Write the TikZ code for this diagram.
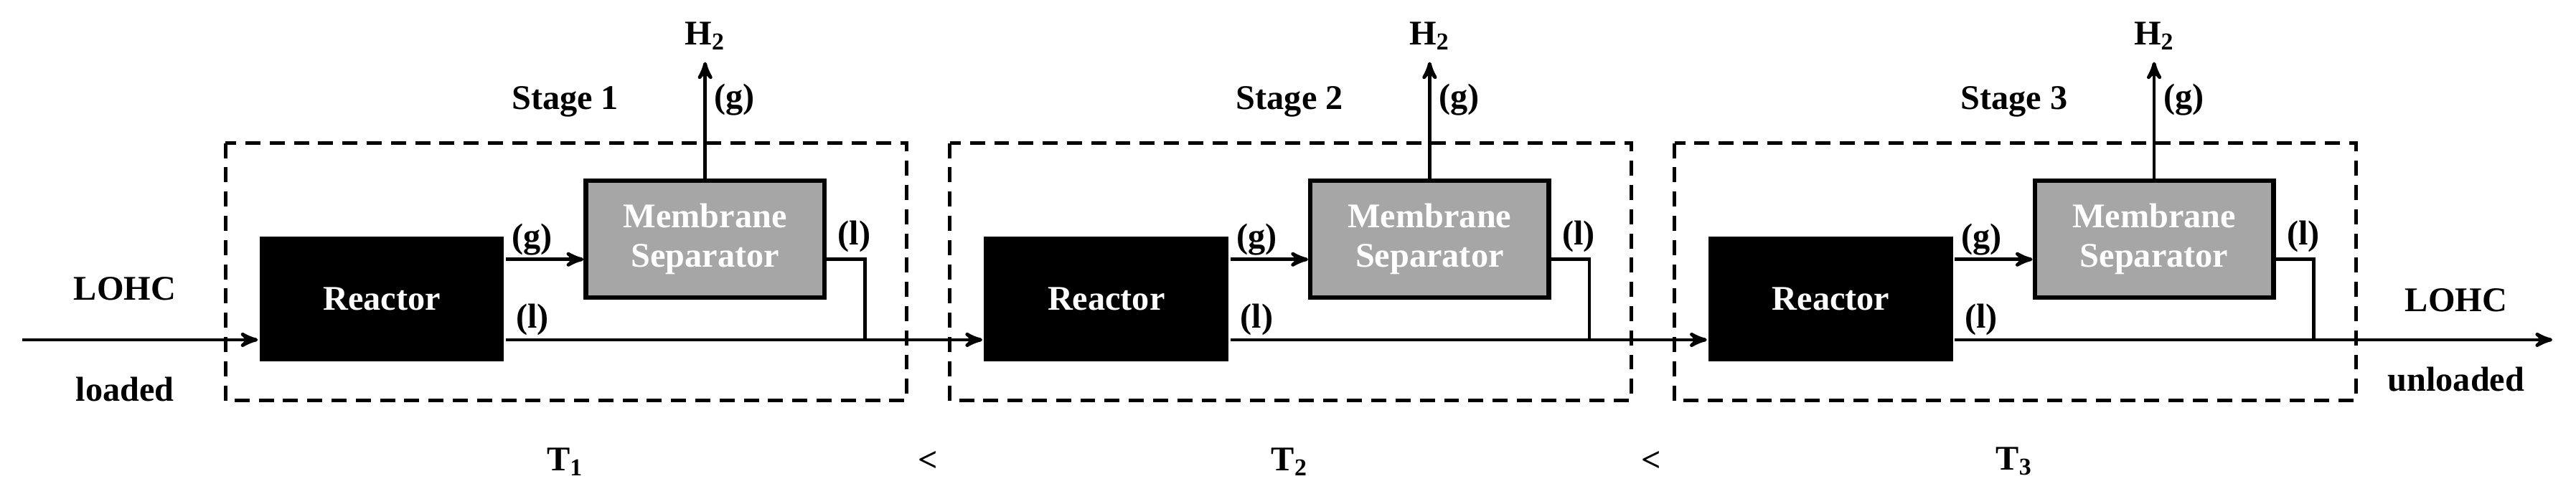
\documentclass[tikz,border=0pt]{standalone}
\usepackage{fontspec}
\setmainfont{Liberation Serif}
\usetikzlibrary{
    arrows,
    calc,
    positioning,
}

\begin{document}
\begin{tikzpicture}[>=stealth', line width=1.5pt]

    \tikzstyle{commonNode}=[font=\fontsize{15}{17}\selectfont\bfseries, align=center]
    \tikzstyle{reactor}=[commonNode, rectangle, fill=black, text=white, minimum width=3.72cm, minimum height=1.9cm, inner sep=0pt]
    \tikzstyle{membrane}=[commonNode, rectangle, draw=black, line width=2pt, fill=black!35, text=white, minimum width=3.63cm, minimum height=1.78cm, inner sep=0pt]
    \tikzstyle{streamText}=[commonNode, inner sep=1pt]
    \tikzstyle{stageBox}=[line width=1.6pt, dash pattern=on 6.5pt off 4pt]
    \tikzstyle{flow}=[->, line width=1.5pt]

    \begin{scope}
        % Spacing the stages out
        \def \hspacing {11.025}
        \def \gasshift {-0.31cm}

        \useasboundingbox (0,0) rectangle (39.2,-7.59);

        % Stage boxes
        \draw[stageBox] (3.43+0*\hspacing, -2.18) rectangle (13.8+0*\hspacing, -6.1);
        \draw[stageBox] (3.43+1*\hspacing, -2.18) rectangle (13.8+1*\hspacing, -6.1);
        \draw[stageBox] (3.43+2*\hspacing, -2.18) rectangle (13.8+2*\hspacing, -6.1);

        % Inputs and outputs
        \coordinate (LOHCin)  at (0.34, -5.175);
        \coordinate (LOHCout) at (38.84, -5.175);
        \node at (1.9, -4.4)     [streamText] (inTop)  {LOHC};
        \node at (1.9, -5.925)   [streamText] (inBot)  {loaded};
        \node at (37.375, -4.575) [streamText] (outTop) {LOHC};
        \node at (37.375, -5.775) [streamText] (outBot) {unloaded};

        % Stage 1
        \node at (5.81+0*\hspacing, -4.55)  [reactor]  (R1) {Reactor};
        \node at (10.73+0*\hspacing, -3.64) [membrane] (M1) {Membrane\\Separator};
        \coordinate (G1) at ([yshift=\gasshift]M1.west);
        \coordinate (L1) at ([yshift=\gasshift]M1.east);
        \coordinate (J1) at (13.16+0*\hspacing, -5.175);
        \coordinate (H1) at (10.73+0*\hspacing, -0.945);
        \node[streamText, above=0.12cm of H1] (Htext1) {H\textsubscript{2}};
        \node at (11.18+0*\hspacing, -1.52) [streamText] (Hg1) {(g)};
        \node at (8.6+0*\hspacing, -1.55)   [streamText] (S1) {Stage 1};
        \node at (8.1+0*\hspacing, -3.65)   [streamText] (g1) {(g)};
        \node at (8.1+0*\hspacing, -4.87)   [streamText] (l1) {(l)};
        \node at (13.0+0*\hspacing, -3.6)   [streamText] (lm1) {(l)};
        \node at (8.6+0*\hspacing, -7.03)   [streamText] (T1) {T\textsubscript{1}};

        % Stage 2
        \node at (5.81+1*\hspacing, -4.55)  [reactor]  (R2) {Reactor};
        \node at (10.73+1*\hspacing, -3.64) [membrane] (M2) {Membrane\\Separator};
        \coordinate (G2) at ([yshift=\gasshift]M2.west);
        \coordinate (L2) at ([yshift=\gasshift]M2.east);
        \coordinate (J2) at (13.16+1*\hspacing, -5.175);
        \coordinate (H2) at (10.73+1*\hspacing, -0.945);
        \node[streamText, above=0.12cm of H2] (Htext2) {H\textsubscript{2}};
        \node at (11.18+1*\hspacing, -1.52) [streamText] (Hg2) {(g)};
        \node at (8.6+1*\hspacing, -1.55)   [streamText] (S2) {Stage 2};
        \node at (8.1+1*\hspacing, -3.65)   [streamText] (g2) {(g)};
        \node at (8.1+1*\hspacing, -4.87)   [streamText] (l2) {(l)};
        \node at (13.0+1*\hspacing, -3.6)   [streamText] (lm2) {(l)};
        \node at (8.6+1*\hspacing, -7.03)   [streamText] (T2) {T\textsubscript{2}};

        % Stage 3
        \node at (5.81+2*\hspacing, -4.55)  [reactor]  (R3) {Reactor};
        \node at (10.73+2*\hspacing, -3.64) [membrane] (M3) {Membrane\\Separator};
        \coordinate (G3) at ([yshift=\gasshift]M3.west);
        \coordinate (L3) at ([yshift=\gasshift]M3.east);
        \coordinate (J3) at (13.16+2*\hspacing, -5.175);
        \coordinate (H3) at (10.73+2*\hspacing, -0.945);
        \node[streamText, above=0.12cm of H3] (Htext3) {H\textsubscript{2}};
        \node at (11.18+2*\hspacing, -1.52) [streamText] (Hg3) {(g)};
        \node at (8.6+2*\hspacing, -1.55)   [streamText] (S3) {Stage 3};
        \node at (8.1+2*\hspacing, -3.65)   [streamText] (g3) {(g)};
        \node at (8.1+2*\hspacing, -4.87)   [streamText] (l3) {(l)};
        \node at (13.0+2*\hspacing, -3.6)   [streamText] (lm3) {(l)};
        \node at (8.6+2*\hspacing, -7.03)   [streamText] (T3) {T\textsubscript{3}};

        % Temperature order
        \node at (14.125, -7.03) [streamText] (lt1) {<};
        \node at (25.125, -7.03) [streamText] (lt2) {<};

        % Streams
        \draw[flow] (LOHCin) -- (R1.west |- LOHCin);
        \draw[flow] (G1 -| R1.east) -- (G1);
        \draw[flow] (M1.north) -- (H1);
        \draw (L1) -| (J1);
        \draw[flow] (R1.east |- J1) -- (R2.west |- J1);

        \draw[flow] (G2 -| R2.east) -- (G2);
        \draw[flow] (M2.north) -- (H2);
        \draw (L2) -| (J2);
        \draw[flow] (R2.east |- J2) -- (R3.west |- J2);

        \draw[flow] (G3 -| R3.east) -- (G3);
        \draw[flow] (M3.north) -- (H3);
        \draw (L3) -| (J3);
        \draw[flow] (R3.east |- J3) -- (LOHCout);
    \end{scope}

\end{tikzpicture}
\end{document}
